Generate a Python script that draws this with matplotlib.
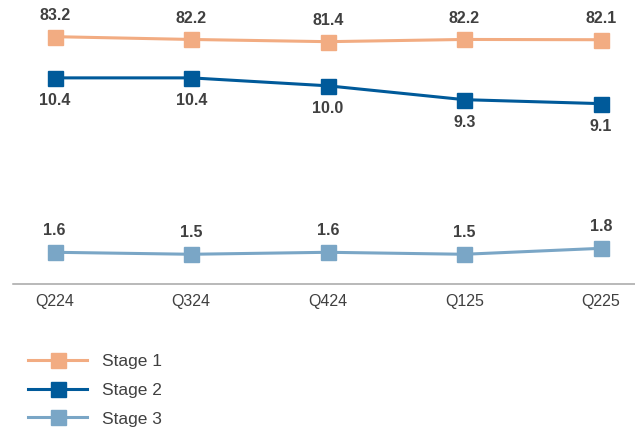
import matplotlib.pyplot as plt

plt.rcParams['font.family'] = ['Liberation Sans', 'DejaVu Sans']

quarters = ["Q224", "Q324", "Q424", "Q125", "Q225"]
stage1 = [83.2, 82.2, 81.4, 82.2, 82.1]
stage2 = [10.4, 10.4, 10.0, 9.3, 9.1]
stage3 = [1.6, 1.5, 1.6, 1.5, 1.8]

c1 = "#F2AC82"
c2 = "#005A9A"
c3 = "#7AA6C6"
txt = "#404040"

fig = plt.figure(figsize=(6.35, 4.3), dpi=100)
# main axes holds stage 2 and 3, the twin holds stage 1 on its own scale
ax = fig.add_axes([13 / 635, 146 / 430, 622 / 635, 264 / 430])
ax.set_xlim(-0.305, 4.249)
ax.set_ylim(0, 13.32)
ax1 = ax.twinx()
ax1.set_ylim(-5.8, 89.2)

x = list(range(len(quarters)))
l1, = ax1.plot(x, stage1, color=c1, lw=2.2, marker="s", ms=10.8, label="Stage 1")
l2, = ax.plot(x, stage2, color=c2, lw=2.2, marker="s", ms=10.8, label="Stage 2")
l3, = ax.plot(x, stage3, color=c3, lw=2.2, marker="s", ms=10.8, label="Stage 3")

for i, v in enumerate(stage1):
    ax1.annotate(f"{v:.1f}", (i, v), xytext=(0, 15), textcoords="offset points",
                 ha="center", va="center", fontsize=11.5, fontweight="bold", color=txt)
for i, v in enumerate(stage2):
    ax.annotate(f"{v:.1f}", (i, v), xytext=(0, -16.5), textcoords="offset points",
                ha="center", va="center", fontsize=11.5, fontweight="bold", color=txt)
for i, v in enumerate(stage3):
    ax.annotate(f"{v:.1f}", (i, v), xytext=(0, 16), textcoords="offset points",
                ha="center", va="center", fontsize=11.5, fontweight="bold", color=txt)

for a in (ax, ax1):
    for s in ("top", "left", "right"):
        a.spines[s].set_visible(False)
    a.set_yticks([])
ax1.spines["bottom"].set_visible(False)
ax.spines["bottom"].set_color("#A6A6A6")
ax.spines["bottom"].set_linewidth(1.1)
ax.set_xticks(x)
ax.set_xticklabels(quarters)
ax.tick_params(axis="x", length=0, pad=7, labelsize=11.5, labelcolor=txt)

fig.legend(handles=[l1, l2, l3], loc="upper left", bbox_to_anchor=(28 / 635, 1 - 354 / 430),
           frameon=False, fontsize=12.5, handlelength=3.4, handletextpad=0.85,
           labelspacing=0.78, borderpad=0, borderaxespad=0, labelcolor=txt)

fig.savefig("out.png", dpi=100)
